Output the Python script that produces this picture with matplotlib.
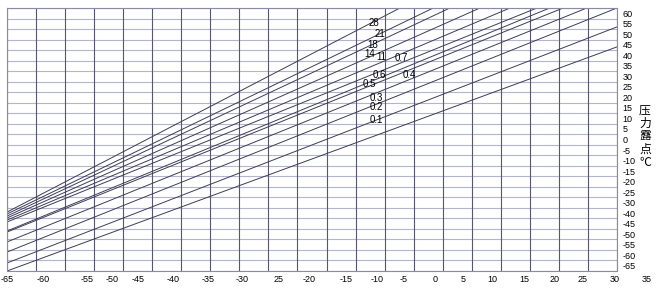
import numpy as np
import matplotlib.pyplot as plt

plt.rcParams['font.family'] = ['Liberation Sans', 'DejaVu Sans']

# pressure lines (atmospheric dew point x -> pressure dew point y)
pressures = ['0.1', '0.2', '0.3', '0.4', '0.5', '0.6', '0.7', '11', '14', '18', '21', '28']
x_start = [-65.0, -65.0, -65.0, -65.0, -65.0, -65.0, -65.0, -65.0, -65.0, -65.0, -65.0, -65.0]
y_start = [-62.5, -58.7, -53.5, -48.7, -44.0, -43.5, -39.2, -38.3, -37.3, -36.4, -35.4, -34.5]
x_end = [30.3, 30.3, 30.3, 25.6, 21.9, 19.8, 17.8, 13.6, 8.9, 4.2, 1.6, -3.6]
y_end = [44.0, 53.5, 62.5, 62.5, 62.5, 62.5, 62.5, 62.5, 62.5, 62.5, 62.5, 62.5]

# axis labels as printed on the chart
x_labels = ['-65', '-60', '-55', '-50', '-45', '-40', '-35', '-30', '25', '-20', '-15',
            '-10', '-5', '0', '5', '10', '15', '20', '25', '30', '35']
y_labels = ['60', '55', '50', '45', '40', '35', '30', '25', '20', '15', '10', '5', '0',
            '-5', '-10', '-15', '-20', '-25', '-30', '-40', '-45', '-50', '-55', '-60', '-65']

# layout: where the printed labels sit
x_label_pos = [-65, -59.4, -52.5, -48.6, -44.5, -39.1, -33.6, -28.3, -22.5, -17.8, -12.0,
               -7.2, -3.1, 1.9, 6.25, 10.8, 15.9, 20.6, 25.0, 30.0, 35.0]
line_label_pos = {
    '28': (-7.6, 55.2), '21': (-6.7, 50.0), '18': (-7.8, 44.9), '14': (-8.3, 40.6),
    '11': (-6.5, 39.2), '0.7': (-3.4, 38.5), '0.6': (-6.8, 30.6), '0.4': (-2.1, 30.6),
    '0.5': (-8.4, 26.3), '0.3': (-7.3, 19.8), '0.2': (-7.3, 15.4), '0.1': (-7.3, 9.2),
}

fig = plt.figure(figsize=(6.6, 2.9), dpi=100)
ax = fig.add_axes([7 / 660, 1 - 271 / 290, 610 / 660, 263 / 290])
ax.set_xlim(-65, 30.3125)
ax.set_ylim(-62.5, 62.5)

# printed grid
for yy in np.arange(62.5, -63, -5):
    ax.axhline(yy, color='#b3b5cf', lw=0.8, zorder=1)
for xx in np.linspace(-65, 30.3125, 22):
    ax.axvline(xx, color='#57566e', lw=0.8, zorder=1)

for i in range(len(pressures)):
    ax.plot([x_start[i], x_end[i]], [y_start[i], y_end[i]], color='#3c3c58', lw=0.7, zorder=2)
    lx, ly = line_label_pos[pressures[i]]
    ax.text(lx, ly, pressures[i], fontsize=7, ha='center', va='center', zorder=3)

for sp in ax.spines.values():
    sp.set_color('#8a8aa8')
    sp.set_linewidth(0.8)

ax.set_xticks([])
ax.yaxis.tick_right()
ax.set_yticks(np.arange(60, -61, -5))
ax.set_yticklabels(y_labels, fontsize=6.5)
ax.tick_params(axis='y', length=0, pad=4)

for pos, lab in zip(x_label_pos, x_labels):
    ax.text(pos, -0.034, lab, transform=ax.get_xaxis_transform(), fontsize=6.5,
            ha='center', va='center', clip_on=False)

fig.text(645 / 660, 1 - 136 / 290, '压\n力\n露\n点\n℃', fontsize=8.5, ha='center', va='center',
         linespacing=1.0, family=['Noto Sans CJK SC', 'DejaVu Sans'])

fig.savefig('out.png', dpi=100)
